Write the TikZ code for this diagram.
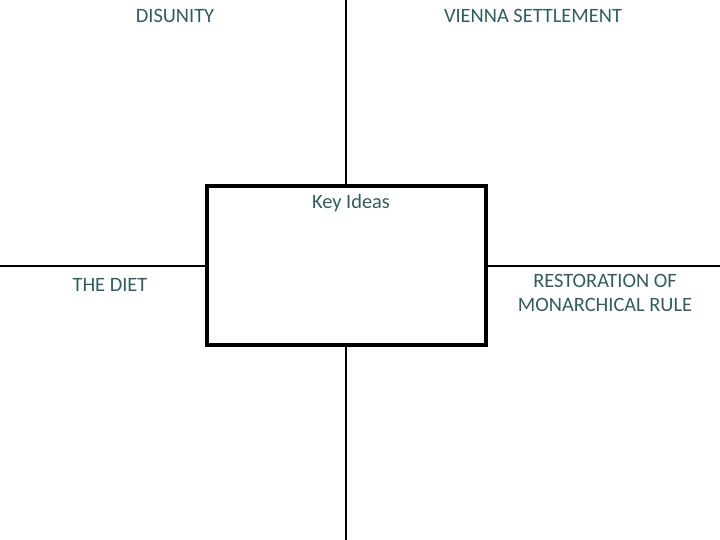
\documentclass[tikz,border=0pt]{standalone}
\usepackage{fontspec}
\setmainfont{Carlito}
\definecolor{teal1}{RGB}{47,94,96}
\begin{document}
\begin{tikzpicture}[x=1pt,y=-1pt,
  lbl/.style={text=teal1,font=\fontsize{20.4}{24}\selectfont,align=center,inner sep=0pt},
  thin line/.style={line width=1.2pt,black},
  keybox/.style={draw=black,line width=4.5pt,minimum width=279pt,minimum height=159pt,inner sep=0pt}]
\useasboundingbox (0,0) rectangle (720,540);
\node[keybox] (box) at (346.5,265.5) {};
\coordinate (top) at (346,0);
\coordinate (bot) at (346,540);
\coordinate (left) at (0,266);
\coordinate (right) at (720,266);
\draw[thin line] (top) -- (box.north -| top);
\draw[thin line] (box.south -| bot) -- (bot);
\draw[thin line] (left) -- (box.west |- left);
\draw[thin line] (box.east |- right) -- (right);
\node[lbl] (key) at (351,203) {Key Ideas};
\node[lbl] (dis) at (175,16) {DISUNITY};
\node[lbl] (vie) at (533,16) {VIENNA SETTLEMENT};
\node[lbl] (diet) at (110,285) {THE DIET};
\node[lbl] (rest) at (605,293) {RESTORATION OF\\MONARCHICAL RULE};
\end{tikzpicture}
\end{document}
